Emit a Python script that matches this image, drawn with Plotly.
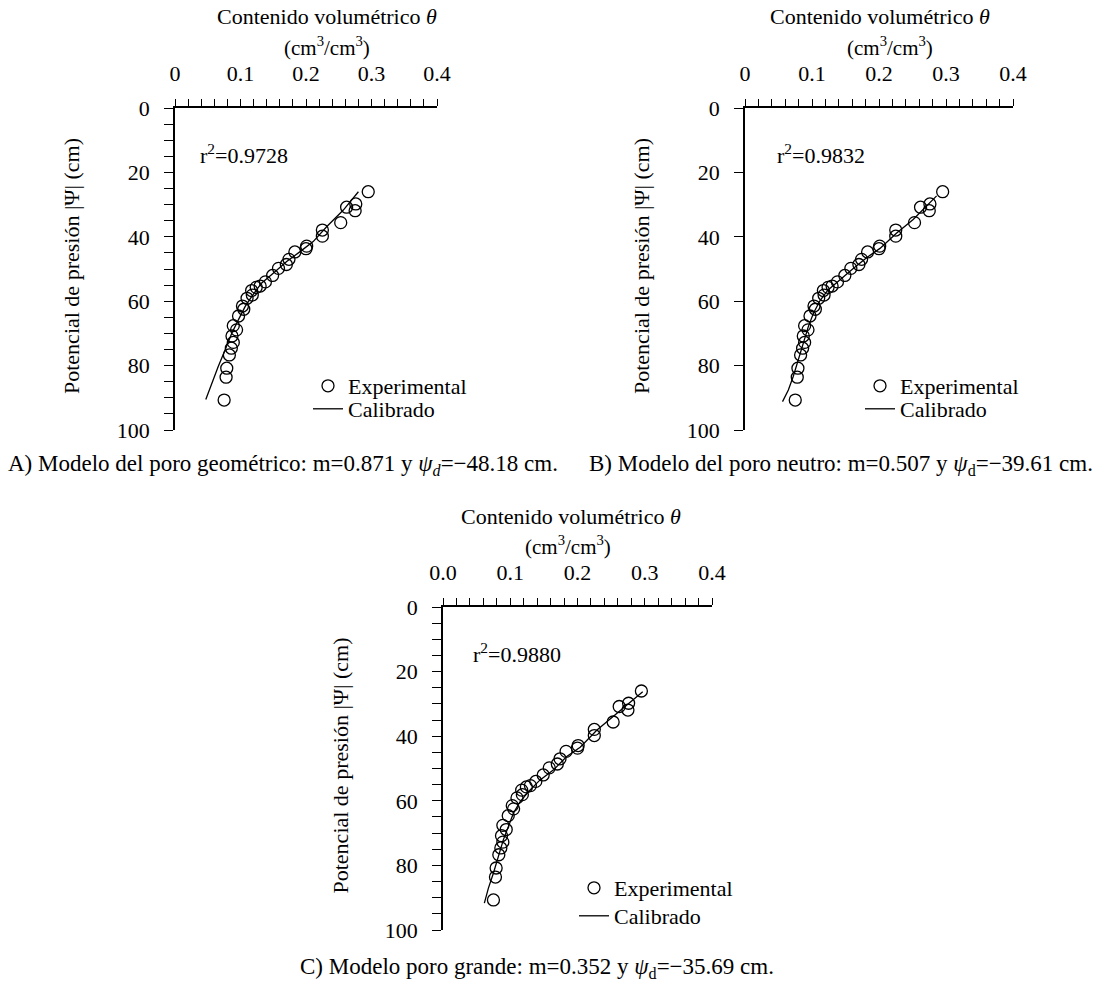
import plotly.graph_objects as go

# Experimental data (shared by the three panels)
theta_exp = [0.295, 0.276, 0.262, 0.275, 0.253, 0.225, 0.225, 0.201, 0.200, 0.183, 0.174, 0.170,
             0.158, 0.149, 0.138, 0.130, 0.124, 0.117, 0.118, 0.110, 0.103, 0.105, 0.097, 0.089,
             0.094, 0.087, 0.089, 0.086, 0.083, 0.079, 0.078, 0.075]
psi_exp = [26.0, 29.8, 30.8, 31.9, 35.6, 37.9, 39.8, 42.9, 43.7, 44.7, 47.0, 48.6,
           49.8, 52.0, 54.0, 55.3, 55.7, 56.7, 58.1, 59.1, 61.5, 62.5, 64.6, 67.6,
           68.9, 70.8, 72.8, 74.6, 76.7, 80.8, 83.6, 90.7]

# Calibrated curves
theta_cal_a = [0.047, 0.056, 0.066, 0.0763, 0.0865, 0.0967, 0.107, 0.117, 0.132, 0.150, 0.1705,
               0.191, 0.211, 0.2315, 0.257, 0.280]
psi_cal_a = [90.5, 85.5, 80.3, 75.2, 70.0, 65.8, 61.7, 58.6, 54.4, 51.3, 47.7,
             44.6, 41.5, 36.9, 31.7, 26.0]
theta_cal_b = [0.056, 0.0647, 0.072, 0.0796, 0.087, 0.0945, 0.102, 0.112, 0.124, 0.142, 0.162,
               0.182, 0.2015, 0.226, 0.251, 0.286]
psi_cal_b = [91.2, 87.6, 83.4, 78.3, 73.1, 67.9, 63.8, 59.8, 56.5, 53.2, 49.8,
             46.4, 43.6, 38.9, 34.6, 27.3]
theta_cal_c = [0.0615, 0.0674, 0.0748, 0.0823, 0.0897, 0.0972, 0.1046, 0.1145, 0.127, 0.144, 0.164,
               0.184, 0.204, 0.229, 0.253, 0.297]
psi_cal_c = [91.7, 87.1, 82.5, 77.3, 72.1, 68.0, 63.9, 60.3, 57.2, 53.6, 50.5,
             46.3, 43.4, 38.1, 34.0, 26.2]

r2_labels = ["r<sup>2</sup>=0.9728", "r<sup>2</sup>=0.9832", "r<sup>2</sup>=0.9880"]
captions = [
    "A) Modelo del poro geométrico: m=0.871 y <i>ψ</i><sub><i>d</i></sub>=−48.18 cm.",
    "B) Modelo del poro neutro: m=0.507 y <i>ψ</i><sub>d</sub>=−39.61 cm.",
    "C) Modelo poro grande: m=0.352 y <i>ψ</i><sub>d</sub>=−35.69 cm.",
]
x_title = "Contenido volumétrico <i>θ</i>"
x_unit = "(cm<sup>3</sup>/cm<sup>3</sup>)"
y_title = "Potencial de presión |Ψ| (cm)"

W, H = 1097, 992
FONT = "Liberation Serif"
FS = 22


def px(x):
    return x / W


def py(y):
    return 1 - y / H


# panel pixel boxes: (left, right, top, bottom)
boxes = [(175, 437, 108, 430), (745, 1013, 108, 430), (443, 712, 607, 930)]
cal = [(theta_cal_a, psi_cal_a), (theta_cal_b, psi_cal_b), (theta_cal_c, psi_cal_c)]
title_cx = [(327, 327), (880, 890), (571, 568)]
r2_x = [198, 775, 471]
leg_pos = [((328, 386), (328, 409)), ((880, 386), (880, 409)), ((594, 888), (594, 916))]
cap_pos = [(283, 465), (841, 465), (537, 968)]

fig = go.Figure()
layout = dict(
    width=W, height=H, margin=dict(l=0, r=0, t=0, b=0, autoexpand=False),
    paper_bgcolor="white", plot_bgcolor="white", showlegend=True,
    font=dict(family=FONT, size=FS, color="black"),
    annotations=[],
)

for i, (l, r, t, b) in enumerate(boxes):
    sfx = "" if i == 0 else str(i + 1)
    xa, ya = "x" + sfx, "y" + sfx
    lg1 = "legend" if i == 0 else "legend" + str(2 * i + 1)
    lg2 = "legend" + str(2 * i + 2)
    fig.add_trace(go.Scatter(
        x=theta_exp, y=psi_exp, mode="markers", name="Experimental",
        xaxis=xa, yaxis=ya, legend=lg1, showlegend=True,
        marker=dict(symbol="circle-open", size=12, color="black", line=dict(width=1.3, color="black")),
    ))
    fig.add_trace(go.Scatter(
        x=cal[i][0], y=cal[i][1], mode="lines", name="Calibrado",
        xaxis=xa, yaxis=ya, legend=lg2, showlegend=True, line=dict(color="black", width=1.3),
    ))
    xax = dict(
        domain=[px(l), px(r)], range=[0, 0.4], side="top", anchor=ya, automargin=False,
        showgrid=False, zeroline=False, showline=True, linecolor="black", linewidth=1.5,
        ticks="outside", ticklen=7, tickwidth=1.3, tickcolor="black", dtick=0.1, tick0=0,
        minor=dict(dtick=0.02, ticks="outside", ticklen=7, tickwidth=1.3, tickcolor="black", showgrid=False),
        ticklabelstandoff=9, tickfont=dict(size=FS),
    )
    if i == 2:
        xax["tickformat"] = ".1f"
    yax = dict(
        domain=[py(b), py(t)], range=[100, 0], anchor=xa, automargin=False,
        showgrid=False, zeroline=False, showline=True, linecolor="black", linewidth=1.5,
        ticks="outside", ticklen=9, tickwidth=1.3, tickcolor="black", dtick=20, tick0=0,
        ticklabelstandoff=10, tickfont=dict(size=FS),
    )
    if i != 1:
        yax["minor"] = dict(dtick=5, ticks="outside", ticklen=9, tickwidth=1.3, tickcolor="black", showgrid=False)
    layout["xaxis" + sfx] = xax
    layout["yaxis" + sfx] = yax

    layout["annotations"] += [
        dict(text=x_title, x=px(title_cx[i][0]), y=py(t - 91), xref="paper", yref="paper", showarrow=False,
             xanchor="center", yanchor="middle", font=dict(size=FS)),
        dict(text=x_unit, x=px(title_cx[i][1]), y=py(t - 62), xref="paper", yref="paper", showarrow=False,
             xanchor="center", yanchor="middle", font=dict(size=FS - 1)),
        dict(text=y_title, x=px(l - 103), y=py((t + b) / 2 - 3), xref="paper", yref="paper", showarrow=False,
             textangle=-90, xanchor="center", yanchor="middle", font=dict(size=FS)),
        dict(text=r2_labels[i], x=px(r2_x[i]), y=py(t + 46), xref="paper", yref="paper", showarrow=False,
             xanchor="left", yanchor="middle", font=dict(size=FS)),
    ]
    for name, (cxp, cyp) in zip([lg1, lg2], leg_pos[i]):
        layout[name] = dict(x=px(cxp - 20), y=py(cyp - 21), xanchor="left", yanchor="top",
                            bgcolor="rgba(0,0,0,0)", font=dict(size=FS), itemwidth=30, visible=True)

for i, (cx, cy) in enumerate(cap_pos):
    layout["annotations"].append(dict(text=captions[i], x=px(cx), y=py(cy), xref="paper", yref="paper",
                                      showarrow=False, xanchor="center", yanchor="middle", font=dict(size=FS + 1)))

fig.update_layout(**layout)
fig.write_html("out.html", config={"displayModeBar": False},
               post_script="document.body.style.margin='0';document.body.style.overflow='hidden';")
